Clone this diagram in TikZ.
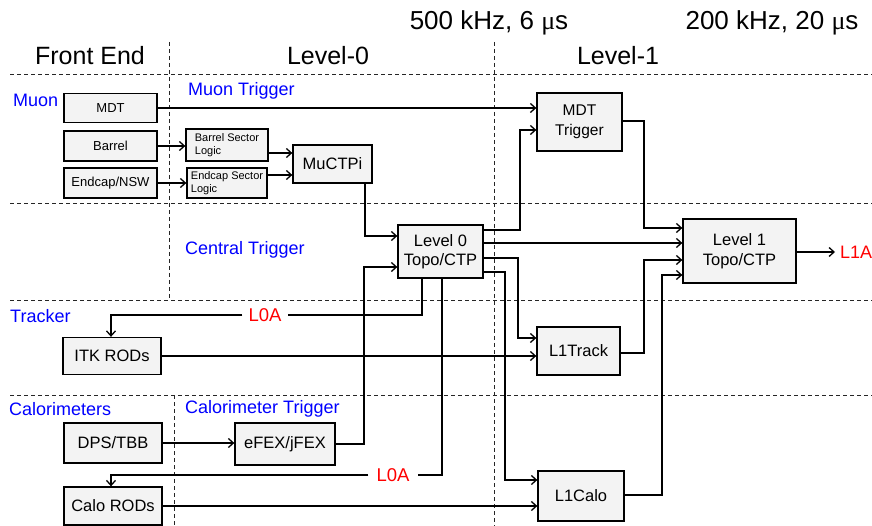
\documentclass[tikz,border=0pt]{standalone}
\usepackage{fontspec}
\setmainfont{Liberation Sans}
\newfontfamily\mufont{Liberation Serif}
\usetikzlibrary{arrows.meta}
\definecolor{boxgray}{RGB}{243,243,243}
\definecolor{lblblue}{RGB}{0,0,255}
\definecolor{lblred}{RGB}{255,0,0}
\newcommand{\fs}[2]{\fontsize{#1}{#2}\selectfont}
\tikzset{
  blk/.style={draw, line width=1.3pt, fill=boxgray, inner sep=0pt, align=center, font=\fs{16.5}{19.5}},
  arr/.style={line width=1.3pt, -{Straight Barb[length=5pt,width=9pt,line width=1.3pt]}},
  wire/.style={line width=1.3pt},
  sep/.style={line width=0.8pt, dash pattern=on 4pt off 3pt, black!85},
  head/.style={font=\fs{25}{30}, inner sep=0pt},
  sect/.style={font=\fs{18}{21}, text=lblblue, inner sep=0pt, anchor=west},
  redlbl/.style={font=\fs{18.5}{21}, text=lblred, fill=white, inner xsep=6pt, inner ysep=1pt}
}
\begin{document}
\begin{tikzpicture}[x=1pt,y=-1pt]
\useasboundingbox (0,0) rectangle (872,526);
% separators
\draw[sep] (10,74) -- (872,74);
\draw[sep] (10,203) -- (872,203);
\draw[sep] (10,300) -- (872,300);
\draw[sep] (10,395) -- (872,395);
\draw[sep] (169,42) -- (169,300);
\draw[sep] (174,395) -- (174,526);
\draw[sep] (494,42) -- (494,526);
% headers
\node[head] (hfe) at (90,56) {Front End};
\node[head] (hl0) at (328,56) {Level-0};
\node[head] (hl1) at (618,56) {Level-1};
\node[head, font=\fs{26}{30}] (r0) at (489,23) {500 kHz, 6 {\mufont μ}s};
\node[head, font=\fs{26}{30}] (r1) at (772,23) {200 kHz, 20 {\mufont μ}s};
% section labels
\node[sect] (smuon) at (13,100) {Muon};
\node[sect] (smt) at (188,91) {Muon Trigger};
\node[sect] (sct) at (185,250) {Central Trigger};
\node[sect] (strk) at (10,316) {Tracker};
\node[sect] (scal) at (9,409) {Calorimeters};
\node[sect] (scalt) at (185,409) {Calorimeter Trigger};
% boxes
\node[blk, minimum width=93pt, minimum height=29pt, font=\fs{13}{15}] (mdt) at (110.5,108) {MDT};
\node[blk, minimum width=93pt, minimum height=30pt, font=\fs{13}{15}] (barrel) at (110.5,146) {Barrel};
\node[blk, minimum width=93pt, minimum height=30pt, font=\fs{13}{15}] (endcap) at (110.5,183) {Endcap/NSW};
\node[blk, minimum width=82pt, minimum height=32pt, align=left, font=\fs{11}{13}] (bsl) at (227,145) {Barrel Sector\\Logic};
\node[blk, minimum width=80pt, minimum height=30pt, align=left, font=\fs{11}{13}] (esl) at (227,183) {Endcap Sector\\Logic};
\node[blk, minimum width=79pt, minimum height=38pt] (muctpi) at (332.5,164) {MuCTPi};
\node[blk, minimum width=85pt, minimum height=58pt, font=\fs{15.5}{19.5}] (mdttrig) at (579.5,122) {MDT\\Trigger};
\node[blk, minimum width=85pt, minimum height=53pt] (l0) at (440.5,251.5) {Level 0\\Topo/CTP};
\node[blk, minimum width=113pt, minimum height=64pt] (l1) at (739.5,251) {Level 1\\Topo/CTP};
\node[blk, minimum width=83pt, minimum height=48pt] (l1track) at (578.5,351) {L1Track};
\node[blk, minimum width=98pt, minimum height=37pt] (itk) at (112,356) {ITK RODs};
\node[blk, minimum width=98pt, minimum height=40pt] (dps) at (113,443) {DPS/TBB};
\node[blk, minimum width=100pt, minimum height=42pt] (efex) at (285,444) {eFEX/jFEX};
\node[blk, minimum width=98pt, minimum height=38pt] (calorods) at (113,506) {Calo RODs};
\node[blk, minimum width=86pt, minimum height=50pt] (l1calo) at (581,496) {L1Calo};
% muon connections
\draw[arr] (mdt.east) -- (mdttrig.west |- mdt.east);
\draw[arr] (barrel.east) -- (bsl.west |- barrel.east);
\draw[arr] (endcap.east) -- (esl.west |- endcap.east);
\draw[arr] (bsl.east |- 0,153) -- (muctpi.west |- 0,153);
\draw[arr] (esl.east |- 0,175) -- (muctpi.west |- 0,175);
\draw[arr] (muctpi.south -| 365,0) |- (l0.west |- 0,236);
\draw[arr] (efex.east) -| (364,267) -- (l0.west |- 0,267);
% level 0 outputs
\draw[arr] (l0.east |- 0,230) -| (520,130) -- (mdttrig.west |- 0,130);
\draw[arr] (l0.east |- 0,243) -- (l1.west |- 0,243);
\draw[arr] (l0.east |- 0,258) -| (518,338) -- (l1track.west |- 0,338);
\draw[arr] (l0.east |- 0,272) -| (505,480) -- (l1calo.west |- 0,480);
% L0A
\node[redlbl] (l0a) at (265,315) {L0A};
\node[redlbl, inner xsep=8pt] (l0b) at (393,475) {L0A};
\draw[wire] (l0.south -| 422,0) |- (l0a.east);
\draw[arr] (l0a.west) -| (itk.north -| 111,0);
\draw[wire] (l0.south -| 442,0) |- (l0b.east);
\draw[arr] (l0b.west) -| (calorods.north -| 111,0);
% front end to level 1
\draw[arr] (itk.east) -- (l1track.west |- itk.east);
\draw[arr] (dps.east) -- (efex.west |- dps.east);
\draw[arr] (calorods.east) -- (l1calo.west |- calorods.east);
% level 1 inputs
\draw[arr] (mdttrig.east |- 0,121) -| (644,228) -- (l1.west |- 0,228);
\draw[arr] (l1track.east |- 0,353) -| (644,260) -- (l1.west |- 0,260);
\draw[arr] (l1calo.east |- 0,495) -| (662,275) -- (l1.west |- 0,275);
% L1A
\node[font=\fs{18}{21}, text=lblred, anchor=west, inner xsep=5pt] (l1a) at (835,252) {L1A};
\draw[arr] (l1.east |- l1a.west) -- (l1a.west);
\end{tikzpicture}
\end{document}
